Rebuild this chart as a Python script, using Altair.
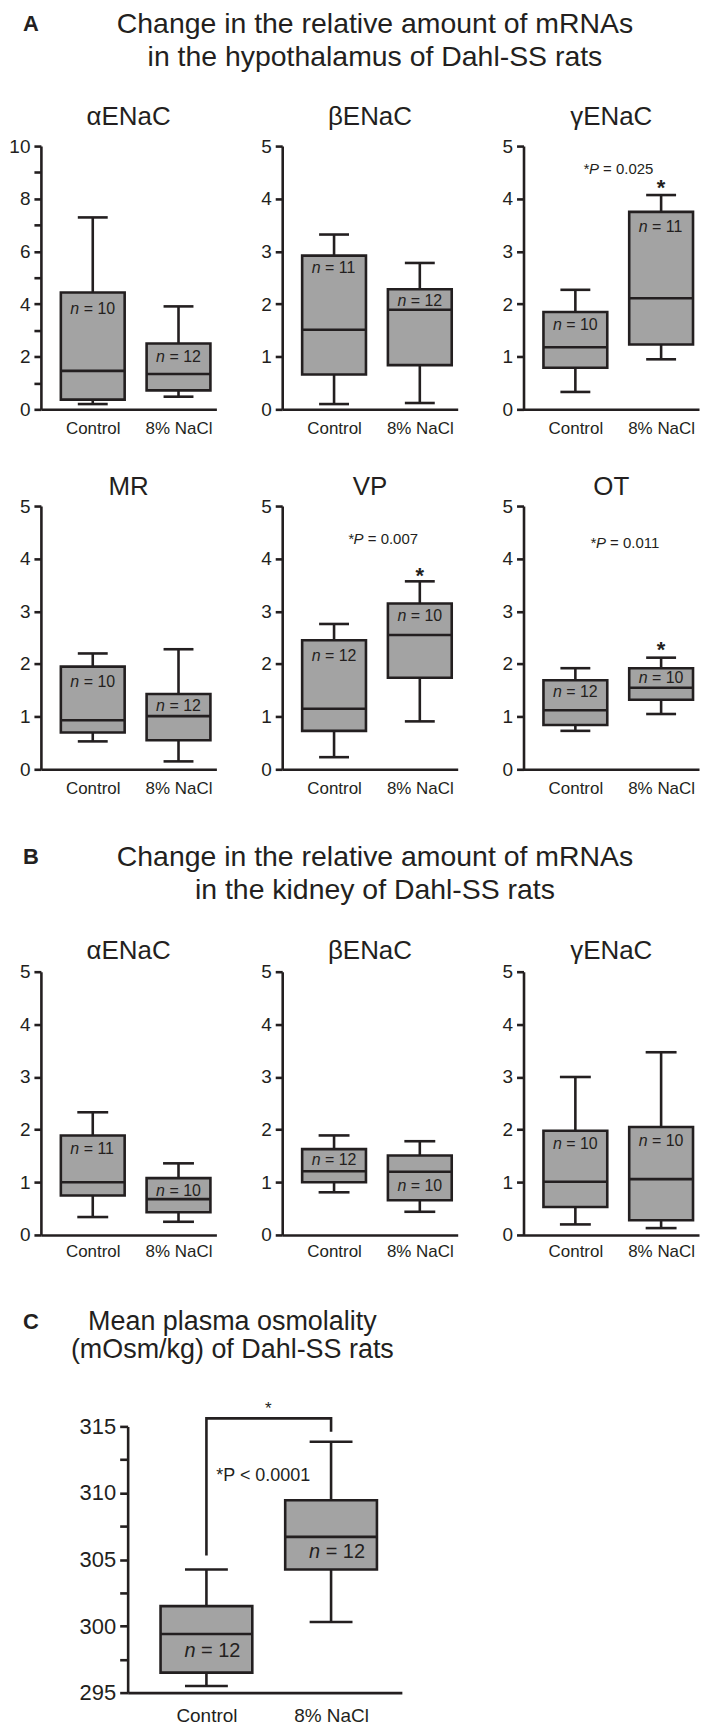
import altair as alt
import pandas as pd

FONT = "Liberation Sans"
INK = "#231f20"
FILL = "#a3a3a3"
LW = 2.6

# ---------------- data ----------------
groups = ["Control", "8% NaCl"]

panel_titles = ["αENaC", "βENaC", "γENaC", "MR", "VP", "OT", "αENaC", "βENaC", "γENaC", ""]

whisker_low = [[0.20, 0.48], [0.10, 0.12], [0.33, 0.95], [0.53, 0.15], [0.23, 0.91],
               [0.73, 1.05], [0.34, 0.25], [0.81, 0.44], [0.20, 0.13], [295.5, 300.3]]
box_q1 = [[0.37, 0.72], [0.66, 0.84], [0.79, 1.23], [0.70, 0.55], [0.73, 1.74],
          [0.84, 1.32], [0.75, 0.43], [1.00, 0.66], [0.53, 0.28], [296.5, 304.25]]
box_median = [[1.46, 1.34], [1.51, 1.89], [1.18, 2.11], [0.93, 1.01], [1.15, 2.55],
              [1.12, 1.55], [1.00, 0.68], [1.21, 1.20], [1.01, 1.06], [299.4, 306.7]]
box_q3 = [[4.44, 2.50], [2.92, 2.28], [1.85, 3.75], [1.95, 1.43], [2.45, 3.15],
          [1.69, 1.92], [1.89, 1.08], [1.63, 1.51], [1.98, 2.05], [301.5, 309.45]]
whisker_high = [[7.29, 3.91], [3.32, 2.78], [2.27, 4.07], [2.20, 2.28], [2.76, 3.57],
                [1.92, 2.12], [2.33, 1.36], [1.89, 1.78], [3.00, 3.47], [304.25, 313.85]]
n_counts = [[10, 12], [11, 12], [10, 11], [10, 12], [12, 10],
            [12, 10], [11, 10], [12, 10], [10, 10], [12, 12]]
n_label_y = [[3.8, 2.0], [2.69, 2.06], [1.6, 3.47], [1.66, 1.21], [2.15, 2.92],
             [1.46, 1.74], [1.64, 0.83], [1.42, 0.92], [1.73, 1.79], [298.1, 305.6]]

section_letters = ["A", "B", "C"]
section_lines = [
    ["Change in the relative amount of mRNAs", "in the hypothalamus of Dahl-SS rats"],
    ["Change in the relative amount of mRNAs", "in the kidney of Dahl-SS rats"],
    ["Mean plasma osmolality", "(mOsm/kg) of Dahl-SS rats"],
]

sig_panel = [2, 4, 5]
sig_p_label = ["= 0.025", "= 0.007", "= 0.011"]
sig_p_y = [4.56, 4.37, 4.30]
sig_star_y = [4.30, 3.77, 2.36]

osm_p_label = ["*P < 0.0001"]
osm_p_y = [311.3]
osm_star_y = [316.7]
bracket_groups = ["Control", "Control", "8% NaCl", "8% NaCl"]
bracket_y = [305.3, 315.6, 315.6, 314.6]

# ---------------- styles ----------------
sig_dx = [-43, -37, -36]


def txt(label, x, y, size, weight="normal", style="normal", align="center", baseline="alphabetic"):
    return alt.Chart(pd.DataFrame({"t": [label]})).mark_text(
        font=FONT, fontSize=size, fontWeight=weight, fontStyle=style, color=INK,
        align=align, baseline=baseline
    ).encode(x=alt.value(x), y=alt.value(y), text="t:N")


def header(idx, height, line_x, ys, size):
    layers = [txt(section_letters[idx], -10, ys[0], 22, weight="bold")]
    for line, y in zip(section_lines[idx], ys[1:]):
        layers.append(txt(line, line_x, y, size))
    return alt.layer(*layers).properties(width=620, height=height)


def panel(i, dom, tick_step, label_step, w, h, left, step, box_w, cap_w,
          y_font, x_font, x_pad, n_font, n_shift, y_extent, tick_len,
          frame_top, frame_bottom, title_base):
    df = pd.DataFrame({
        "group": groups,
        "lo": whisker_low[i], "q1": box_q1[i], "med": box_median[i],
        "q3": box_q3[i], "hi": whisker_high[i],
        "neq": ["= %d" % v for v in n_counts[i]],
        "ny": n_label_y[i],
    })
    xs = alt.Scale(type="point", domain=groups, padding=(w / step - 1) / 2,
                   align=left / (w - step))
    nt = int(round((dom[1] - dom[0]) / tick_step))
    vals = [dom[0] + k * tick_step for k in range(nt + 1)]
    ys = alt.Scale(domain=dom, nice=False, zero=False)
    x_axis = alt.Axis(title=None, ticks=False, tickSize=0, labelAngle=0, labelFont=FONT,
                      labelFontSize=x_font, labelColor=INK, labelPadding=x_pad,
                      domainColor=INK, domainWidth=LW, grid=False)
    y_axis = alt.Axis(title=None, values=vals, format="d",
                      labelExpr="datum.value %% %s == 0 ? datum.label : ''" % label_step,
                      labelOverlap=False, labelFont=FONT, labelFontSize=y_font,
                      labelColor=INK, labelPadding=4, tickSize=tick_len, tickWidth=LW,
                      tickColor=INK, domainColor=INK, domainWidth=LW, grid=False,
                      minExtent=y_extent, maxExtent=y_extent)
    X = alt.X("group:N", scale=xs, axis=x_axis, sort=groups)

    def Y(f):
        return alt.Y(f, scale=ys, axis=y_axis)

    base = alt.Chart(df)
    layers = [
        alt.Chart(pd.DataFrame({"f": [0]})).mark_rect(opacity=0).encode(
            x=alt.value(-y_extent), x2=alt.value(w + 1.3),
            y=alt.value(-frame_top), y2=alt.value(h + frame_bottom)),
        base.mark_rule(color=INK, strokeWidth=LW, opacity=1).encode(
            x=X, y=Y("lo:Q"), y2="hi:Q"),
        base.mark_tick(color=INK, thickness=LW, size=cap_w, opacity=1).encode(
            x=X, y=Y("lo:Q")),
        base.mark_tick(color=INK, thickness=LW, size=cap_w, opacity=1).encode(
            x=X, y=Y("hi:Q")),
        base.mark_bar(size=box_w, color=FILL, stroke=INK, strokeWidth=LW, opacity=1).encode(
            x=X, y=Y("q1:Q"), y2="q3:Q"),
        base.mark_tick(color=INK, thickness=LW, size=box_w, opacity=1).encode(
            x=X, y=Y("med:Q")),
        base.mark_text(text="n", font=FONT, fontSize=n_font, fontStyle="italic", color=INK,
                       align="right", baseline="middle",
                       dx=-0.848 * n_font + n_shift).encode(x=X, y=Y("ny:Q")),
        base.mark_text(font=FONT, fontSize=n_font, color=INK, align="left", baseline="middle",
                       dx=-0.57 * n_font + n_shift).encode(x=X, y=Y("ny:Q"), text="neq:N"),
    ]
    if panel_titles[i]:
        layers.append(txt(panel_titles[i], w / 2, -title_base, 26))
    if i in sig_panel:
        j = sig_panel.index(i)
        sdf = pd.DataFrame({"group": ["8% NaCl"], "py": [sig_p_y[j]], "sy": [sig_star_y[j]],
                            "lbl": [sig_p_label[j]]})
        sb = alt.Chart(sdf)
        layers += [
            sb.mark_text(text="*P", font=FONT, fontSize=15, fontStyle="italic", color=INK,
                         align="right", baseline="middle",
                         dx=sig_dx[j] - 19.4).encode(x=X, y=Y("py:Q")),
            sb.mark_text(font=FONT, fontSize=15, color=INK, align="left", baseline="middle",
                         dx=sig_dx[j] - 15.2).encode(x=X, y=Y("py:Q"), text="lbl:N"),
            sb.mark_text(text="*", font=FONT, fontSize=22, fontWeight="bold", color=INK,
                         align="center", baseline="alphabetic", dy=12).encode(x=X, y=Y("sy:Q")),
        ]
    if i == 9:
        bdf = pd.DataFrame({"group": bracket_groups, "by": bracket_y,
                            "o": list(range(len(bracket_y)))})
        odf = pd.DataFrame({"group": ["Control"], "py": osm_p_y, "sy": osm_star_y,
                            "lbl": osm_p_label})
        ob = alt.Chart(odf)
        layers += [
            alt.Chart(bdf).mark_line(color=INK, strokeWidth=LW, strokeJoin="miter",
                                     opacity=1).encode(x=X, y=Y("by:Q"), order="o:Q"),
            ob.mark_text(font=FONT, fontSize=18, color=INK, align="center", baseline="middle",
                         dx=57).encode(x=X, y=Y("py:Q"), text="lbl:N"),
            ob.mark_text(text="*", font=FONT, fontSize=17, color=INK, align="center",
                         baseline="alphabetic", dx=62, dy=10).encode(x=X, y=Y("sy:Q")),
        ]
    return alt.layer(*layers).properties(width=w, height=h)


small = dict(w=176, left=52, step=86, box_w=64, y_font=19, x_font=17, n_font=16,
             n_shift=0, y_extent=32, tick_len=7)

p = []
for i in range(3):
    dom = [0, 10] if i == 0 else [0, 5]
    ts, ls = (1, 2) if i == 0 else (0.5, 1)
    p.append(panel(i, dom, ts, ls, h=264, cap_w=30, x_pad=11,
                   frame_top=50, frame_bottom=35, title_base=21, **small))
for i in range(3, 6):
    p.append(panel(i, [0, 5], 0.5, 1, h=264, cap_w=30, x_pad=11,
                   frame_top=61.5, frame_bottom=35, title_base=11.5, **small))
for i in range(6, 9):
    p.append(panel(i, [0, 5], 0.5, 1, h=264, cap_w=31, x_pad=9,
                   frame_top=45, frame_bottom=32, title_base=13, **small))
p.append(panel(9, [295, 315], 2.5, 5, w=275, h=267, left=79, step=125, box_w=92, cap_w=43,
               y_font=22, x_font=19, x_pad=14, n_font=20, n_shift=6, y_extent=50,
               tick_len=8, frame_top=40, frame_bottom=28, title_base=0))

# invisible spacer that pushes the osmolality panel to the right
spacer = alt.Chart(pd.DataFrame({"f": [0]})).mark_rect(opacity=0).encode(
    x=alt.value(0), x2=alt.value(37), y=alt.value(0), y2=alt.value(10)
).properties(width=37, height=10)

hA = header(0, 85, 335, [20, 22, 55], 28.5)
hB = header(1, 122.5, 335, [59.5, 61.5, 95.5], 28.5)
hC = header(2, 120, 192, [62, 63, 91], 27)

row1 = alt.hconcat(p[0], p[1], p[2], spacing=32)
row2 = alt.hconcat(p[3], p[4], p[5], spacing=32)
row3 = alt.hconcat(p[6], p[7], p[8], spacing=32)
row4 = alt.hconcat(spacer, p[9], spacing=0)

chart = alt.vconcat(hA, row1, row2, hB, row3, hC, row4, spacing=0).properties(
    padding=0).configure_view(stroke=None)

chart.save("out.html", embed_options={"renderer": "svg", "actions": False})
